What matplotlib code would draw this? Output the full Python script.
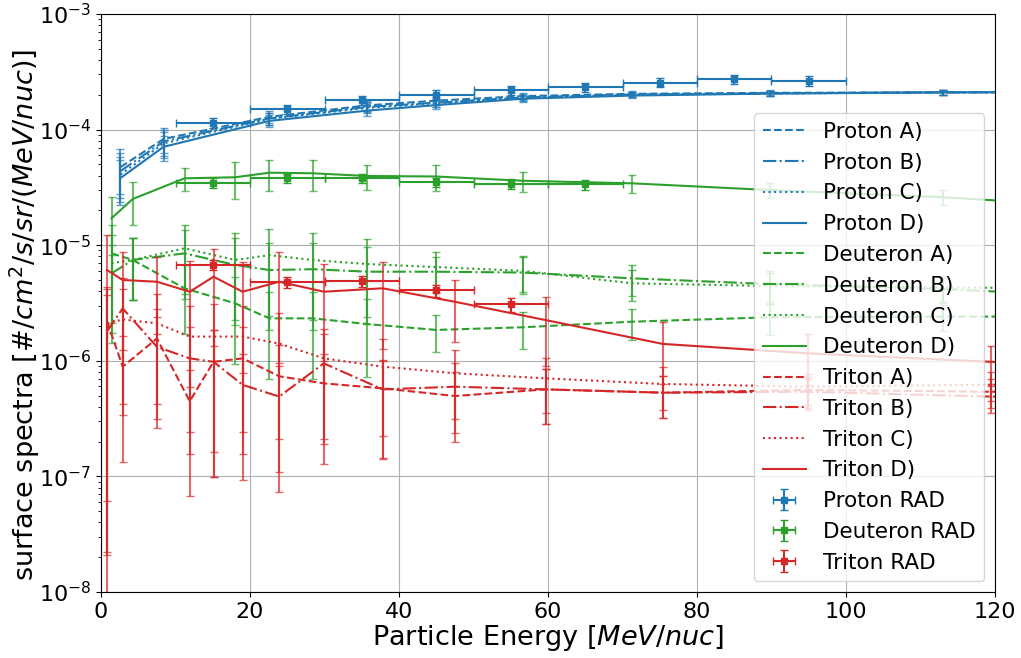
import matplotlib
matplotlib.use("Agg")
import matplotlib.pyplot as plt
import numpy as np

# model energies (MeV/nuc)
proton_E = [2.6, 8.4, 22.6, 35.7, 45.0, 56.6, 71.3, 89.8, 113.0, 142.3]
deuteron_E = [1.4, 4.25, 11.2, 18.0, 22.6, 28.4, 35.7, 45.0, 56.6, 71.3, 89.8, 113.0, 142.3]
triton_E = [0.8, 2.9, 7.5, 11.9, 15.1, 19.0, 23.9, 29.9, 37.8, 47.5, 59.7, 75.4, 94.9, 119.5, 150.4]

# model spectra, runs A) - D)
proton_A = [4.74e-5, 8.3e-5, 1.29e-4, 1.62e-4, 1.78e-4, 1.95e-4, 2.04e-4, 2.08e-4, 2.10e-4, 2.12e-4]
proton_B = [4.38e-5, 7.9e-5, 1.25e-4, 1.57e-4, 1.71e-4, 1.90e-4, 2.01e-4, 2.06e-4, 2.10e-4, 2.12e-4]
proton_C = [4.09e-5, 7.6e-5, 1.24e-4, 1.54e-4, 1.69e-4, 1.89e-4, 2.00e-4, 2.05e-4, 2.10e-4, 2.12e-4]
proton_D = [3.81e-5, 7.1e-5, 1.19e-4, 1.46e-4, 1.63e-4, 1.85e-4, 1.97e-4, 2.05e-4, 2.10e-4, 2.12e-4]
proton_err = [0.42, 0.25, 0.12, 0.10, 0.08, 0.06, 0.05, 0.05, 0.05, 0.05]

deuteron_A = [8.5e-6, 7.45e-6, 4.24e-6, 3.14e-6, 2.33e-6, 2.33e-6, 2.08e-6, 1.85e-6, 1.95e-6, 2.18e-6, 2.38e-6, 2.41e-6, 2.42e-6]
deuteron_B = [5.7e-6, 7.45e-6, 8.5e-6, 6.75e-6, 6.1e-6, 6.2e-6, 5.9e-6, 5.9e-6, 5.8e-6, 5.17e-6, 4.61e-6, 4.18e-6, 3.4e-6]
deuteron_C = [7.0e-6, 7.45e-6, 9.4e-6, 7.45e-6, 8.2e-6, 7.45e-6, 6.87e-6, 6.47e-6, 6.0e-6, 4.68e-6, 4.44e-6, 4.31e-6, 4.2e-6]
deuteron_D = [1.71e-5, 2.51e-5, 3.79e-5, 3.87e-5, 4.24e-5, 4.19e-5, 3.97e-5, 3.93e-5, 3.61e-5, 3.43e-5, 3.0e-5, 2.6e-5, 2.0e-5]
deuteron_err_abc = [0.75, 0.55, 0.6, 0.7, 0.7, 0.7, 0.65, 0.35, 0.35, 0.3, 0.3, 0.25, 0.25]
deuteron_err_d = [0.52, 0.4, 0.22, 0.35, 0.3, 0.3, 0.25, 0.25, 0.2, 0.18, 0.15, 0.15, 0.15]

triton_A = [2.2e-6, 8.9e-7, 1.56e-6, 4.47e-7, 9.8e-7, 1.05e-6, 7.35e-7, 6.38e-7, 5.78e-7, 4.96e-7, 5.66e-7, 5.3e-7, 5.6e-7, 5.4e-7, 5.3e-7]
triton_B = [1.8e-6, 2.84e-6, 1.32e-6, 1.05e-6, 9.8e-7, 6.2e-7, 4.9e-7, 9.5e-7, 5.66e-7, 5.97e-7, 5.66e-7, 5.3e-7, 5.4e-7, 4.9e-7, 4.8e-7]
triton_C = [2.1e-6, 2.28e-6, 2.11e-6, 1.62e-6, 1.62e-6, 1.62e-6, 1.41e-6, 1.05e-6, 8.9e-7, 7.8e-7, 7.05e-7, 6.3e-7, 5.97e-7, 6.2e-7, 6.3e-7]
triton_D = [6.1e-6, 5.0e-6, 4.83e-6, 3.96e-6, 5.34e-6, 3.96e-6, 4.83e-6, 3.96e-6, 4.24e-6, 3.24e-6, 2.25e-6, 1.40e-6, 1.16e-6, 9.8e-7, 8.5e-7]
triton_err_abc = [0.99, 0.85, 0.8, 0.85, 0.9, 0.85, 0.85, 0.8, 0.75, 0.6, 0.5, 0.4, 0.3, 0.28, 0.28]
triton_err_b0 = 1.05  # first B bin reaches below the axis
triton_err_d = [0.99, 0.75, 0.65, 0.85, 0.75, 0.8, 0.8, 0.75, 0.7, 0.55, 0.6, 0.55, 0.47, 0.38, 0.38]

# RAD measurements, 10 MeV/nuc bins
rad_proton_E = [15, 25, 35, 45, 55, 65, 75, 85, 95]
rad_proton = [1.14e-4, 1.50e-4, 1.80e-4, 1.99e-4, 2.20e-4, 2.32e-4, 2.55e-4, 2.74e-4, 2.65e-4]
rad_proton_err = [1.1e-5, 1.4e-5, 1.7e-5, 1.9e-5, 2.0e-5, 2.1e-5, 2.3e-5, 2.5e-5, 2.5e-5]
rad_deuteron_E = [15, 25, 35, 45, 55, 65]
rad_deuteron = [3.47e-5, 3.79e-5, 3.79e-5, 3.50e-5, 3.38e-5, 3.36e-5]
rad_deuteron_err = [3.2e-6, 3.5e-6, 3.6e-6, 3.4e-6, 3.3e-6, 3.3e-6]
rad_triton_E = [15, 25, 35, 45, 55]
rad_triton = [6.75e-6, 4.81e-6, 4.87e-6, 4.07e-6, 3.08e-6]
rad_triton_err = [6.5e-7, 5.5e-7, 5.5e-7, 4.9e-7, 4.2e-7]
rad_bin_half = 5

styles = ["--", "-.", ":", "-"]
runs = ["A)", "B)", "C)", "D)"]

fig = plt.figure(figsize=(10.21, 6.58), dpi=100)
ax = fig.add_axes([0.099, 0.1003, 0.8755, 0.8784])


def draw_models(name, color, energies, series, errs):
    # lines first so that they come first in the legend
    for vals, ls, run in zip(series, styles, runs):
        ax.plot(energies, vals, ls, color=color, lw=1.5, label=f"{name} {run}")
    for vals, err in zip(series, errs):
        vals = np.array(vals)
        ax.errorbar(energies, vals, yerr=vals * np.array(err), fmt="none",
                    ecolor=color, elinewidth=1.5, capsize=3, alpha=0.7)


tri_err_b = [triton_err_b0] + triton_err_abc[1:]

draw_models("Proton", "#1f77b4", proton_E,
            [proton_A, proton_B, proton_C, proton_D], [proton_err] * 4)
draw_models("Deuteron", "#2ca02c", deuteron_E,
            [deuteron_A, deuteron_B, deuteron_C, deuteron_D],
            [deuteron_err_abc] * 3 + [deuteron_err_d])
draw_models("Triton", "#d62728", triton_E,
            [triton_A, triton_B, triton_C, triton_D],
            [triton_err_abc, tri_err_b, triton_err_abc, triton_err_d])

for name, color, E, vals, err in [
        ("Proton RAD", "#1f77b4", rad_proton_E, rad_proton, rad_proton_err),
        ("Deuteron RAD", "#2ca02c", rad_deuteron_E, rad_deuteron, rad_deuteron_err),
        ("Triton RAD", "#d62728", rad_triton_E, rad_triton, rad_triton_err)]:
    ax.errorbar(E, vals, xerr=rad_bin_half, yerr=err, fmt="s", color=color,
                ms=5, elinewidth=1.5, capsize=3, label=name)

ax.set_yscale("log")
ax.set_xlim(0, 120)
ax.set_ylim(1e-8, 1e-3)
ax.grid(True)
ax.tick_params(labelsize=16)
ax.set_xlabel(r"Particle Energy [$MeV/nuc$]", fontsize=19.5, labelpad=1)
ax.set_ylabel(r"surface spectra [$\#/cm^2/s/sr/(MeV/nuc)$]", fontsize=19.5)
ax.yaxis.set_label_coords(-0.066, 0.479)
ax.legend(loc="lower right", fontsize=15.5)

fig.savefig("out.png", dpi=100)
